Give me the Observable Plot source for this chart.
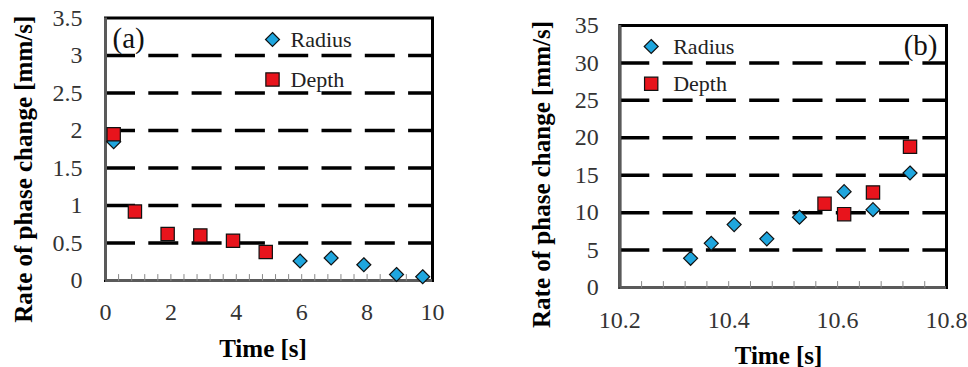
<!DOCTYPE html>
<html><head><meta charset="utf-8">
<script src="https://cdn.jsdelivr.net/npm/d3@7"></script>
<script src="https://cdn.jsdelivr.net/npm/@observablehq/plot@0.6"></script>
<style>
body{margin:0;background:#fff}
#wrap{display:flex;width:968px;height:367px;overflow:hidden}
#wrap svg{flex:none;overflow:visible}
</style></head><body><div id="wrap"></div>
<script>
// ---------- Panel (a) ----------
const timeRadiusA = [0.25, 5.95, 6.9, 7.9, 8.9, 9.7];
const radiusA     = [1.85, 0.26, 0.30, 0.21, 0.08, 0.05];
const timeDepthA  = [0.25, 0.9, 1.9, 2.9, 3.9, 4.9];
const depthA      = [1.95, 0.92, 0.62, 0.60, 0.53, 0.38];
const xTicksA = [0, 2, 4, 6, 8, 10];
const yTicksA = [0, 0.5, 1, 1.5, 2, 2.5, 3, 3.5];
const gridA   = [0.5, 1, 1.5, 2, 2.5, 3];
const minorA  = [0.4, 0.8, 1.2, 1.6, 2, 2.4, 2.8, 3.2, 3.6, 4, 4.4, 4.8, 5.2, 5.6, 6, 6.4, 6.8, 7.2, 7.6, 8, 8.4, 8.8, 9.2, 9.6];

// ---------- Panel (b) ----------
const timeRadiusB = [10.33, 10.368, 10.41, 10.47, 10.53, 10.612, 10.665, 10.733];
const radiusB     = [3.9, 5.9, 8.4, 6.5, 9.4, 12.8, 10.4, 15.3];
const timeDepthB  = [10.576, 10.612, 10.665, 10.733];
const depthB      = [11.2, 9.8, 12.7, 18.8];
const xTicksB = [10.2, 10.4, 10.6, 10.8];
const yTicksB = [0, 5, 10, 15, 20, 25, 30, 35];
const gridB   = [5, 10, 15, 20, 25, 30];
const minorB  = [10.24, 10.28, 10.32, 10.36, 10.4, 10.44, 10.48, 10.52, 10.56, 10.6, 10.64, 10.68, 10.72, 10.76];

const seriesNames = ["Radius", "Depth"];
const yTitle = "Rate of phase change [mm/s]";
const xTitle = "Time [s]";

const SERIF = "Liberation Serif";
const BLUE = "#1fa6de", RED = "#e8141c";
const tickShape = {draw(c, l) { c.moveTo(0, 0); c.lineTo(0, -l); }};

function panel(o) {
  const radius = o.tR.map((t, i) => ({t, v: o.vR[i]}));
  const depth = o.tD.map((t, i) => ({t, v: o.vD[i]}));
  return Plot.plot({
    width: o.width, height: 367,
    marginLeft: o.ml, marginRight: o.mr, marginTop: o.mt, marginBottom: o.mb,
    style: {fontFamily: SERIF, fontSize: "24px", color: "#2a2a2a", background: "#fff"},
    x: {domain: o.xd, axis: null},
    y: {domain: o.yd, axis: null},
    marks: [
      Plot.ruleY(o.grid, {y: d => d, stroke: "#000", strokeWidth: 3.5, strokeDasharray: "30,13.3"}),
      Plot.frame({stroke: "#000", strokeWidth: 3}),
      Plot.ruleX([o.xd[0]], {x: d => d, stroke: "#5a5a5a", strokeWidth: 3}),
      Plot.ruleY([0], {y: d => d, stroke: "#5a5a5a", strokeWidth: 3}),
      Plot.vector(o.minor, {x: d => d, y: 0, length: 6, anchor: "start", shape: tickShape, stroke: "#888", strokeWidth: 1}),
      // tick labels
      Plot.text(o.yt, {x: o.xd[0], y: d => d, text: d => String(d), textAnchor: "end", lineAnchor: "middle", dx: -o.ytp, fontFamily: SERIF, fontSize: 24, fill: "#333"}),
      Plot.text(o.xt, {x: d => d, y: 0, text: d => String(d), textAnchor: "middle", lineAnchor: "middle", dy: o.xtp, fontFamily: SERIF, fontSize: 24, fill: "#333"}),
      Plot.text([yTitle], {text: d => d, frameAnchor: "left", rotate: -90, dx: o.ytDx, dy: o.ytDy, textAnchor: "middle", lineAnchor: "middle", fontFamily: SERIF, fontWeight: "bold", fontSize: 25, fill: "#000"}),
      Plot.text([xTitle], {text: d => d, frameAnchor: "bottom", dx: o.xtDx, dy: o.xtDy, lineAnchor: "middle", fontFamily: SERIF, fontWeight: "bold", fontSize: 25, fill: "#000"}),
      Plot.dot(radius, {x: "t", y: "v", symbol: "diamond2", r: 6.3, fill: BLUE, stroke: "#111", strokeWidth: 1.2}),
      Plot.dot(depth, {x: "t", y: "v", symbol: "square", r: 7.5, fill: RED, stroke: "#111", strokeWidth: 1.2}),
      // legend
      Plot.dot([seriesNames[0]], {frameAnchor: "top-left", dx: o.lgDx, dy: o.lgDy1, symbol: "diamond2", r: 6.3, fill: BLUE, stroke: "#111", strokeWidth: 1.2}),
      Plot.dot([seriesNames[1]], {frameAnchor: "top-left", dx: o.lgDx, dy: o.lgDy2, symbol: "square", r: 7.5, fill: RED, stroke: "#111", strokeWidth: 1.2}),
      Plot.text([seriesNames[0]], {text: d => d, frameAnchor: "top-left", dx: o.lgTx, dy: o.lgDy1, textAnchor: "start", lineAnchor: "middle", fontFamily: SERIF, fontSize: 22, fill: "#222"}),
      Plot.text([seriesNames[1]], {text: d => d, frameAnchor: "top-left", dx: o.lgTx, dy: o.lgDy2, textAnchor: "start", lineAnchor: "middle", fontFamily: SERIF, fontSize: 22, fill: "#222"}),
      Plot.text([o.tag], {text: d => d, frameAnchor: o.tagAnchor, dx: o.tagDx, dy: o.tagDy, textAnchor: o.tagText, lineAnchor: "middle", fontFamily: SERIF, fontSize: 29, fill: "#111"})
    ]
  });
}

const wrap = document.getElementById("wrap");
wrap.append(panel({
  width: 470, ml: 105, mr: 38, mt: 17.5, mb: 87,
  xd: [0, 10], yd: [0, 3.5],
  tR: timeRadiusA, vR: radiusA, tD: timeDepthA, vD: depthA,
  xt: xTicksA, yt: yTicksA, grid: gridA, minor: minorA,
  ytp: 23, xtp: 32,
  ytDx: -82, ytDy: 20, xtDx: -6, xtDy: 68,
  lgDx: 167, lgDy1: 21.5, lgDy2: 61.5, lgTx: 185,
  tag: "(a)", tagAnchor: "top-left", tagDx: 7, tagDy: 21, tagText: "start"
}));
wrap.append(panel({
  width: 498, ml: 149.3, mr: 22, mt: 25, mb: 80,
  xd: [10.2, 10.8], yd: [0, 35],
  tR: timeRadiusB, vR: radiusB, tD: timeDepthB, vD: depthB,
  xt: xTicksB, yt: yTicksB, grid: gridB, minor: minorB,
  ytp: 21, xtp: 33,
  ytDx: -77.6, ytDy: 18, xtDx: -4.6, xtDy: 68,
  lgDx: 31.4, lgDy1: 21, lgDy2: 58.3, lgTx: 53.4,
  tag: "(b)", tagAnchor: "top-right", tagDx: -9, tagDy: 20, tagText: "end"
}));
</script></body></html>
